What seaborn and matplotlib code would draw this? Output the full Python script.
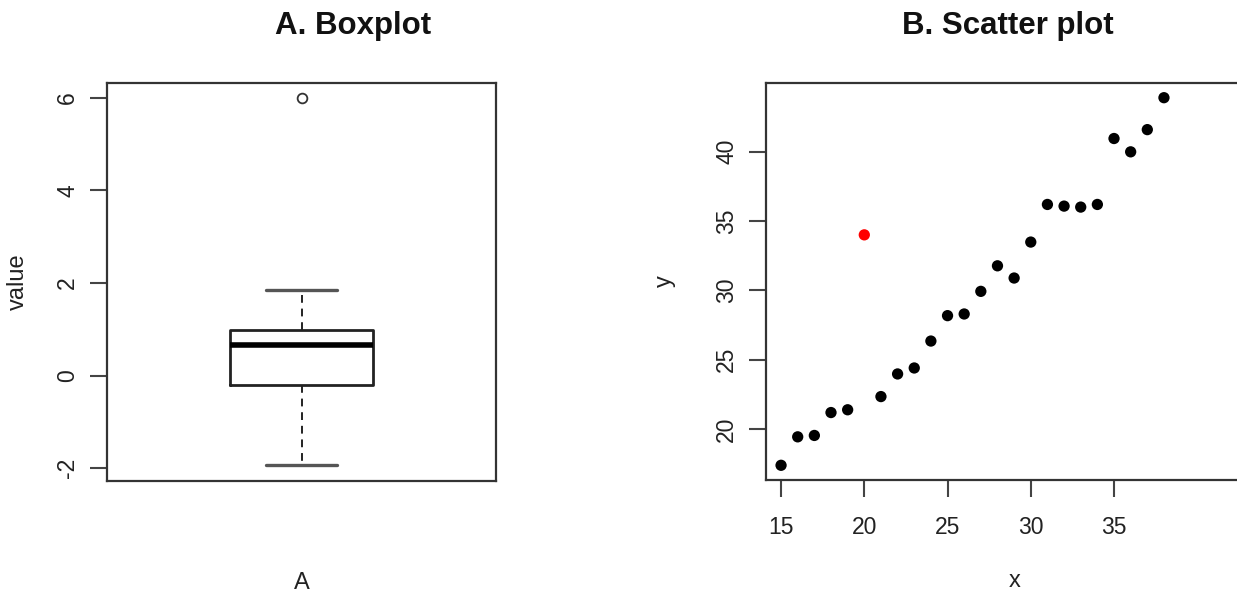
import numpy as np
import pandas as pd
import matplotlib
matplotlib.use("Agg")
import matplotlib.pyplot as plt
import seaborn as sns

# ==================== DATA ====================
# panel A: sample values (quartiles -0.2 / 0.67 / 0.98, one outlier at 6)
box_values = [-1.93, -1.2, -0.6, -0.2, 0.1, 0.45, 0.67, 0.75, 0.88, 0.98, 1.3, 1.85, 6.0]
box_ticks = [-2, 0, 2, 4, 6]

# panel B: x/y pairs, the point at x=20 is the highlighted one
scatter_x = [15, 16, 17, 18, 19, 20, 21, 22, 23, 24, 25, 26,
             27, 28, 29, 30, 31, 32, 33, 34, 35, 36, 37, 38]
scatter_y = [17.4, 19.45, 19.55, 21.2, 21.4, 34.0, 22.35, 23.98, 24.41, 26.35, 28.18, 28.3,
             29.93, 31.77, 30.89, 33.48, 36.19, 36.07, 36.0, 36.19, 40.94, 39.98, 41.58, 43.88]
highlight_x = 20
x_ticks = [15, 20, 25, 30, 35]
y_ticks = [20, 25, 30, 35, 40]

# ==================== STYLE ====================
sns.set_style("white")
plt.rcParams["font.family"] = ["Liberation Sans", "DejaVu Sans"]
plt.rcParams["axes.edgecolor"] = "#333333"
plt.rcParams["axes.linewidth"] = 1.6
plt.rcParams["text.color"] = "#111111"
plt.rcParams["axes.labelcolor"] = "#222222"

TICK_FS = 16.5
LABEL_FS = 17
TITLE_FS = 22.5

fig = plt.figure(figsize=(12.37, 5.94), dpi=100)
ax1 = fig.add_axes([0.0865, 0.1907, 0.3145, 0.670])
ax2 = fig.add_axes([0.6193, 0.1919, 0.4024, 0.6684])

# ==================== A. BOXPLOT ====================
box_df = pd.DataFrame({"value": box_values})
sns.boxplot(data=box_df, y="value", ax=ax1, width=0.368, fill=False, color="#222222",
            linewidth=2.0,
            whiskerprops=dict(linestyle=(0, (4, 3)), linewidth=1.4, color="#222222"),
            capprops=dict(linewidth=2.4, color="#555555"),
            medianprops=dict(linewidth=4, color="black"),
            flierprops=dict(marker="o", markersize=7, markerfacecolor="none",
                            markeredgecolor="#333333", markeredgewidth=1.3))
ax1.set_xlim(-0.5, 0.5)
ax1.set_ylim(-2.27, 6.32)
ax1.set_xticks([])
ax1.set_yticks(box_ticks)
ax1.set_yticklabels([str(t) for t in box_ticks], rotation=90, va="center", fontsize=TICK_FS)
ax1.set_xlabel("A", fontsize=LABEL_FS, labelpad=66)
ax1.set_ylabel("value", fontsize=LABEL_FS, labelpad=20)
fig.text(0.2855, 0.957, "A. Boxplot", fontsize=TITLE_FS, fontweight="bold",
         ha="center", va="center")

# ==================== B. SCATTER PLOT ====================
sc_df = pd.DataFrame({"x": scatter_x, "y": scatter_y})
sc_df["flag"] = np.where(sc_df["x"] == highlight_x, "out", "in")
sns.scatterplot(data=sc_df, x="x", y="y", hue="flag", palette={"in": "black", "out": "red"},
                s=66, edgecolor="none", legend=False, ax=ax2)
ax2.set_xlim(14.1, 44.0)
ax2.set_ylim(16.34, 44.94)
ax2.set_xticks(x_ticks)
ax2.set_xticklabels([str(t) for t in x_ticks], fontsize=TICK_FS)
ax2.set_yticks(y_ticks)
ax2.set_yticklabels([str(t) for t in y_ticks], rotation=90, va="center", fontsize=TICK_FS)
ax2.set_xlabel("x", fontsize=LABEL_FS, labelpad=22)
ax2.set_ylabel("y", fontsize=LABEL_FS, labelpad=28)
fig.text(0.8145, 0.957, "B. Scatter plot", fontsize=TITLE_FS, fontweight="bold",
         ha="center", va="center")

for ax in (ax1, ax2):
    ax.tick_params(axis="both", direction="out", length=12, width=1.5, color="#444444",
                   labelcolor="#222222", bottom=True, left=True)
    ax.tick_params(axis="y", pad=8)
    ax.tick_params(axis="x", pad=14)
    for sp in ax.spines.values():
        sp.set_visible(True)

fig.savefig("out.png", dpi=100)
